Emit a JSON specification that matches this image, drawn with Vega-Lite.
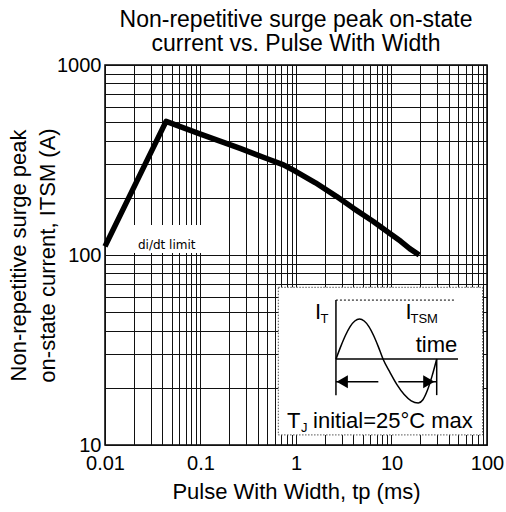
{
  "$schema": "https://vega.github.io/schema/vega-lite/v6.json",
  "width": 382,
  "height": 380,
  "autosize": "none",
  "padding": {"left": 105, "top": 65, "right": 19, "bottom": 67},
  "background": "white",
  "config": {
    "view": {"stroke": "#000", "strokeWidth": 1.5},
    "font": "Liberation Sans"
  },
  "title": {
    "text": ["Non-repetitive surge peak on-state", "current vs. Pulse With Width"],
    "fontSize": 23,
    "fontWeight": "normal",
    "font": "Liberation Sans",
    "color": "#000",
    "lineHeight": 24,
    "anchor": "middle",
    "offset": -1
  },
  "encoding": {
    "x": {
      "field": "x",
      "type": "quantitative",
      "scale": {"type": "log", "domain": [0.01, 100]},
      "axis": {
        "title": "Pulse With Width, tp (ms)",
        "values": [0.01, 0.02, 0.03, 0.04, 0.05, 0.06, 0.07, 0.08, 0.09, 0.1, 0.2, 0.3, 0.4, 0.5, 0.6, 0.7, 0.8, 0.9, 1, 2, 3, 4, 5, 6, 7, 8, 9, 10, 20, 30, 40, 50, 60, 70, 80, 90, 100],
        "format": "~g",
        "labelExpr": "indexof(['0.01','0.1','1','10','100'], datum.label) >= 0 ? datum.label : ''",
        "labelOverlap": false,
        "labelFlush": false,
        "labelBound": false,
        "grid": true,
        "gridColor": "#111",
        "gridWidth": 1,
        "ticks": false,
        "tickSize": 0,
        "domain": false,
        "labelFontSize": 20,
        "labelColor": "#000",
        "labelPadding": 8,
        "titleFontSize": 22,
        "titleFontWeight": "normal",
        "titleColor": "#000",
        "titlePadding": 8
      }
    },
    "y": {
      "field": "y",
      "type": "quantitative",
      "scale": {"type": "log", "domain": [10, 1000]},
      "axis": {
        "title": ["Non-repetitive surge peak", "on-state current, ITSM (A)"],
        "values": [10, 20, 30, 40, 50, 60, 70, 80, 90, 100, 200, 300, 400, 500, 600, 700, 800, 900, 1000],
        "format": "~g",
        "labelExpr": "indexof(['10','100','1000'], datum.label) >= 0 ? datum.label : ''",
        "labelOverlap": false,
        "labelFlush": false,
        "labelBound": false,
        "grid": true,
        "gridColor": "#111",
        "gridWidth": 1,
        "ticks": false,
        "tickSize": 0,
        "domain": false,
        "labelFontSize": 20,
        "labelColor": "#000",
        "labelPadding": 4,
        "titleFontSize": 22,
        "titleFontWeight": "normal",
        "titleColor": "#000",
        "titleLineHeight": 29,
        "titlePadding": -3
      }
    }
  },
  "layer": [
    {
      "data": {"values": [{"x": 0.0174, "x2": 0.111, "y": 144, "y2": 102.5}]},
      "mark": {"type": "rect", "fill": "white", "stroke": null},
      "encoding": {"x2": {"field": "x2"}, "y2": {"field": "y2"}}
    },
    {
      "data": {"values": [
        {"x": 0.01, "y": 111},
        {"x": 0.0436, "y": 505},
        {"x": 0.1, "y": 433},
        {"x": 0.26, "y": 364},
        {"x": 0.5, "y": 321},
        {"x": 0.74, "y": 298},
        {"x": 1, "y": 275},
        {"x": 1.6, "y": 240},
        {"x": 2.67, "y": 203},
        {"x": 4, "y": 176},
        {"x": 6.45, "y": 150},
        {"x": 9, "y": 133},
        {"x": 12.5, "y": 118},
        {"x": 15.5, "y": 108},
        {"x": 19.5, "y": 100}
      ]},
      "mark": {"type": "line", "color": "#000", "strokeWidth": 5.5, "strokeJoin": "round", "strokeCap": "butt"}
    },
    {
      "data": {"values": [{"x": 0.0443, "y": 107.6, "label": "di/dt limit"}]},
      "mark": {"type": "text", "font": "DejaVu Sans", "fontSize": 12, "align": "center", "baseline": "alphabetic", "color": "#000"},
      "encoding": {"text": {"field": "label"}}
    },
    {
      "data": {"values": [{"x": 0.653, "x2": 90, "y": 67.6, "y2": 11.3}]},
      "mark": {"type": "rect", "fill": "white", "stroke": "#555", "strokeWidth": 1, "strokeDash": [1.5, 1.5]},
      "encoding": {"x2": {"field": "x2"}, "y2": {"field": "y2"}}
    },
    {
      "data": {"values": [
        {"x": 2.62, "x2": 2.62, "y": 57.9, "y2": 18.3},
        {"x": 2.62, "x2": 49.7, "y": 28.36, "y2": 28.36},
        {"x": 29.74, "x2": 29.74, "y": 28.36, "y2": 18.3},
        {"x": 2.62, "x2": 7.28, "y": 21.5, "y2": 21.5},
        {"x": 11.8, "x2": 29.74, "y": 21.5, "y2": 21.5}
      ]},
      "mark": {"type": "rule", "color": "#000", "strokeWidth": 1.5},
      "encoding": {"x2": {"field": "x2"}, "y2": {"field": "y2"}}
    },
    {
      "data": {"values": [{"x": 2.62, "x2": 46.2, "y": 57.9}]},
      "mark": {"type": "rule", "color": "#000", "strokeWidth": 1, "strokeDash": [2, 2]},
      "encoding": {"x2": {"field": "x2"}}
    },
    {
      "data": {"values": [
        {"x": 2.624, "y": 28.36},
        {"x": 2.938, "y": 32.95},
        {"x": 3.291, "y": 37.70},
        {"x": 3.686, "y": 42.01},
        {"x": 4.128, "y": 44.95},
        {"x": 4.623, "y": 46.04},
        {"x": 5.177, "y": 44.95},
        {"x": 5.799, "y": 42.01},
        {"x": 6.494, "y": 37.70},
        {"x": 7.273, "y": 32.95},
        {"x": 8.147, "y": 28.36},
        {"x": 9.667, "y": 24.05},
        {"x": 11.45, "y": 20.72},
        {"x": 13.58, "y": 18.42},
        {"x": 16.08, "y": 17.08},
        {"x": 19.08, "y": 16.64},
        {"x": 21.33, "y": 17.31},
        {"x": 23.82, "y": 19.45},
        {"x": 26.62, "y": 23.11},
        {"x": 29.74, "y": 28.36}
      ]},
      "mark": {"type": "line", "color": "#000", "strokeWidth": 1.5, "interpolate": "monotone"}
    },
    {
      "data": {"values": [
        {"x": 3.05, "y": 21.5, "shape": "triangle-left"},
        {"x": 24.6, "y": 21.5, "shape": "triangle-right"}
      ]},
      "mark": {"type": "point", "filled": true, "color": "#000", "opacity": 1, "size": 170},
      "encoding": {"shape": {"field": "shape", "type": "nominal", "scale": null}}
    },
    {
      "data": {"values": [
        {"x": 1.58, "y": 46.0, "label": "I"},
        {"x": 14.02, "y": 45.9, "label": "I"},
        {"x": 17.9, "y": 31.0, "label": "time"},
        {"x": 0.806, "y": 12.25, "label": "T"},
        {"x": 1.507, "y": 12.25, "label": "initial=25°C max"}
      ]},
      "mark": {"type": "text", "font": "Liberation Sans", "fontSize": 22, "align": "left", "baseline": "alphabetic", "color": "#000"},
      "encoding": {"text": {"field": "label"}}
    },
    {
      "data": {"values": [
        {"x": 1.805, "y": 43.9, "label": "T"},
        {"x": 15.81, "y": 43.9, "label": "TSM"},
        {"x": 1.128, "y": 11.7, "label": "J"}
      ]},
      "mark": {"type": "text", "font": "Liberation Sans", "fontSize": 13, "align": "left", "baseline": "alphabetic", "color": "#000"},
      "encoding": {"text": {"field": "label"}}
    }
  ]
}
